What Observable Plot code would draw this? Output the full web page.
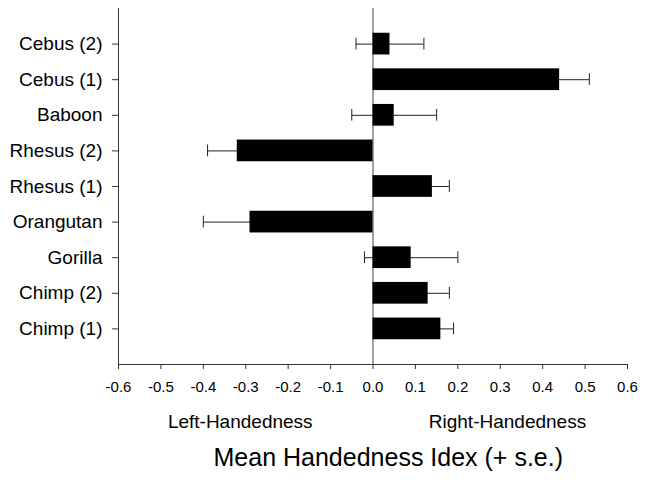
<!DOCTYPE html>
<html>
<head>
<meta charset="utf-8">
<script src="https://cdn.jsdelivr.net/npm/d3@7"></script>
<script src="https://cdn.jsdelivr.net/npm/@observablehq/plot@0.6"></script>
<style>
  html, body { margin: 0; padding: 0; background: #fff; }
</style>
</head>
<body>
<div id="chart"></div>
<script>
const categories = ["Cebus (2)", "Cebus (1)", "Baboon", "Rhesus (2)", "Rhesus (1)", "Orangutan", "Gorilla", "Chimp (2)", "Chimp (1)"];
const means = [0.04, 0.44, 0.05, -0.32, 0.14, -0.29, 0.09, 0.13, 0.16];
const errors = [0.08, 0.07, 0.10, 0.07, 0.04, 0.11, 0.11, 0.05, 0.03];
const xTicks = [-0.6, -0.5, -0.4, -0.3, -0.2, -0.1, 0, 0.1, 0.2, 0.3, 0.4, 0.5, 0.6];
const xTickLabels = ["-0.6", "-0.5", "-0.4", "-0.3", "-0.2", "-0.1", "0.0", "0.1", "0.2", "0.3", "0.4", "0.5", "0.6"];
const sideLabels = ["Left-Handedness", "Right-Handedness"];
const title = "Mean Handedness Idex (+ s.e.)";

const data = categories.map((c, i) => ({species: c, mean: means[i], se: errors[i]}));
const tickLabel = d => {
  let best = 0;
  xTicks.forEach((t, i) => { if (Math.abs(t - d) < Math.abs(xTicks[best] - d)) best = i; });
  return xTickLabels[best];
};

const ink = "#222";
const chart = Plot.plot({
  width: 660,
  height: 487,
  marginTop: 8,
  marginBottom: 123,
  marginLeft: 118,
  marginRight: 33,
  style: {fontFamily: "'Liberation Sans', Arial, sans-serif", background: "#fff", color: "#000"},
  x: {domain: [-0.6, 0.6]},
  y: {domain: categories, paddingInner: 0.39, paddingOuter: 0.695, round: false},
  marks: [
    Plot.ruleX([0], {stroke: "#444", strokeWidth: 1}),
    Plot.ruleY(data, {y: "species", x1: d => d.mean - d.se, x2: d => d.mean + d.se, stroke: ink, strokeWidth: 1}),
    Plot.tickX(data, {y: "species", x: d => d.mean - d.se, insetTop: 5, insetBottom: 5, stroke: ink, strokeWidth: 1}),
    Plot.tickX(data, {y: "species", x: d => d.mean + d.se, insetTop: 5, insetBottom: 5, stroke: ink, strokeWidth: 1}),
    Plot.barX(data, {y: "species", x: "mean", fill: "#000"}),
    Plot.ruleX([-0.6], {stroke: "#333"}),
    Plot.frame({anchor: "bottom", stroke: "#333"}),
    Plot.axisX({ticks: xTicks, tickFormat: tickLabel, tickSize: 5, tickPadding: 11.7, fontSize: 15, label: null, stroke: "#333"}),
    Plot.axisY({tickSize: 6, tickPadding: 10, fontSize: 19, label: null, stroke: "#333"}),
    Plot.text([sideLabels[0]], {x: () => -0.313, frameAnchor: "bottom", dy: 63, fontSize: 19, text: d => d, fill: "#000"}),
    Plot.text([sideLabels[1]], {x: () => 0.317, frameAnchor: "bottom", dy: 63, fontSize: 19, text: d => d, fill: "#000"}),
    Plot.text([title], {x: () => 0.036, frameAnchor: "bottom", dy: 101, fontSize: 25, text: d => d, fill: "#000"})
  ]
});
document.getElementById("chart").appendChild(chart);
</script>
</body>
</html>
